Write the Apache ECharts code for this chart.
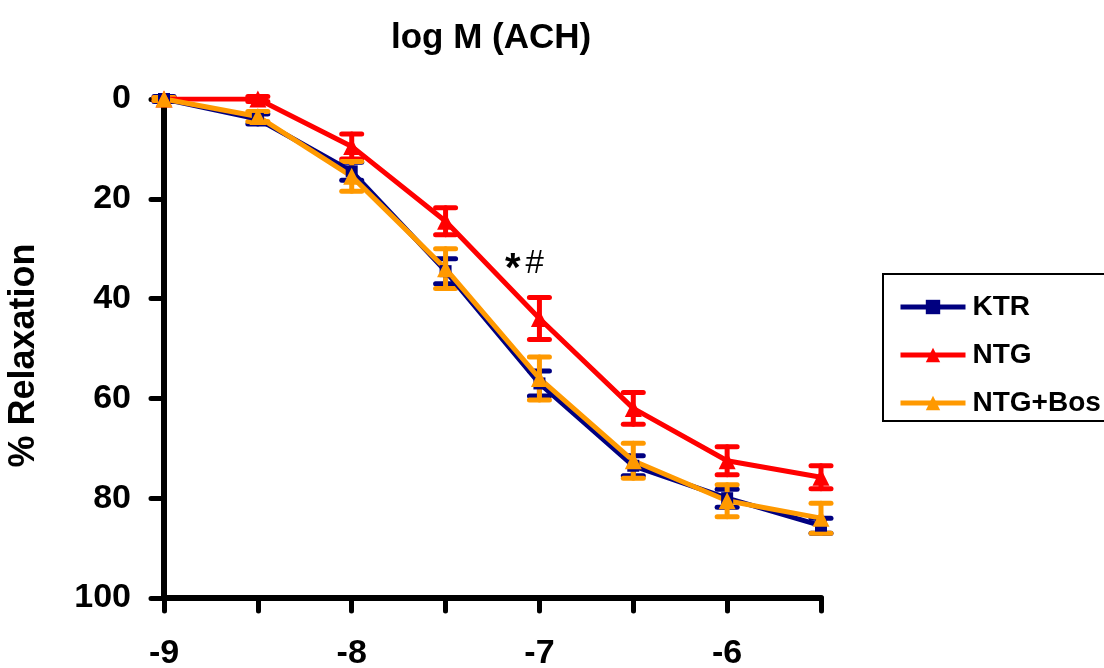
<!DOCTYPE html>
<html>
<head>
<meta charset="utf-8">
<script src="https://cdn.jsdelivr.net/npm/echarts@6/dist/echarts.min.js"></script>
<style>
  html, body { margin: 0; padding: 0; background: #fff; }
  #main { width: 1104px; height: 668px; }
</style>
</head>
<body>
<div id="main"></div>
<script>
// log concentration of ACH
var logDose = [-9, -8.5, -8, -7.5, -7, -6.5, -6, -5.5];

// mean % relaxation and error (SEM)
var ktrMean = [0, 4, 14.5, 34.5, 57, 73.5, 80, 85.5];
var ktrErr = [0.5, 1, 1.8, 2.5, 2.5, 2, 1.8, 1.5];
var ntgMean = [0, 0, 9.5, 24.5, 44, 62, 72.5, 75.8];
var ntgErr = [0.3, 0.5, 2.5, 2.7, 4.2, 3.2, 2.8, 2.3];
var bosMean = [0, 3.5, 15.5, 34, 56, 72.5, 80.5, 84];
var bosErr = [0.3, 1, 3, 4, 4.3, 3.5, 3.2, 3];

var yTicks = [0, 20, 40, 60, 80, 100];

var FONT = 'Arial, "Liberation Sans", sans-serif';

function pairs(xs, ys) {
  return xs.map(function (x, i) { return [x, ys[i]]; });
}
function errPairs(xs, ys, es) {
  return xs.map(function (x, i) { return [x, ys[i], es[i]]; });
}

function errorBars(name, color, data) {
  return {
    name: name + ' err',
    type: 'custom',
    data: data,
    z: 3,
    renderItem: function (params, api) {
      var x = api.value(0), y = api.value(1), e = api.value(2);
      var top = api.coord([x, y - e]);
      var bot = api.coord([x, y + e]);
      var w = 10;
      var st = { stroke: color, lineWidth: 5, lineCap: 'round' };
      return {
        type: 'group',
        children: [
          { type: 'line', shape: { x1: top[0], y1: top[1], x2: bot[0], y2: bot[1] }, style: st },
          { type: 'line', shape: { x1: top[0] - w, y1: top[1], x2: top[0] + w, y2: top[1] }, style: st },
          { type: 'line', shape: { x1: bot[0] - w, y1: bot[1], x2: bot[0] + w, y2: bot[1] }, style: st }
        ]
      };
    }
  };
}

function lineSeries(name, color, symbol, size, data) {
  return {
    name: name,
    type: 'line',
    data: data,
    z: 4,
    symbol: symbol,
    symbolSize: size,
    showAllSymbol: true,
    lineStyle: { color: color, width: 5 },
    itemStyle: { color: color, borderWidth: 0 },
    emphasis: { disabled: true }
  };
}

var chart = echarts.init(document.getElementById('main'));

var option = {
  animation: false,
  backgroundColor: '#fff',
  title: {
    text: 'log M (ACH)',
    left: 386,
    top: 16,
    textStyle: { fontFamily: FONT, fontSize: 35, fontWeight: 'bold', color: '#000' }
  },
  grid: { left: 164, right: 283, top: 99, bottom: 70, outerBoundsMode: 'none' },
  legend: {
    orient: 'vertical',
    left: 893,
    top: 288,
    itemGap: 20,
    itemWidth: 65,
    itemHeight: 18,
    lineStyle: { width: 5 },
    data: ['KTR', 'NTG', 'NTG+Bos'],
    textStyle: { fontFamily: FONT, fontSize: 28, fontWeight: 'bold', color: '#000', padding: [0, 0, 0, 2] }
  },
  xAxis: {
    type: 'value',
    min: -9,
    max: -5.5,
    interval: 0.5,
    splitLine: { show: false },
    axisLine: { onZero: false, lineStyle: { color: '#000', width: 6, cap: 'round' } },
    axisTick: { length: 13, lineStyle: { color: '#000', width: 5, cap: 'round' } },
    axisLabel: {
      margin: 39,
      fontFamily: FONT, fontSize: 34, fontWeight: 'bold', color: '#000',
      formatter: function (v) { return v % 1 === 0 ? String(v) : ''; }
    }
  },
  yAxis: {
    type: 'value',
    inverse: true,
    min: yTicks[0],
    max: yTicks[yTicks.length - 1],
    interval: 20,
    name: '% Relaxation',
    nameLocation: 'middle',
    nameGap: 122,
    nameRotate: 90,
    nameTextStyle: { fontFamily: FONT, fontSize: 36, fontWeight: 'bold', color: '#000', padding: [0, 14, 0, 0] },
    splitLine: { show: false },
    axisLine: { onZero: false, lineStyle: { color: '#000', width: 6, cap: 'round' } },
    axisTick: { length: 13, lineStyle: { color: '#000', width: 5, cap: 'round' } },
    axisLabel: { margin: 33, fontFamily: FONT, fontSize: 34, fontWeight: 'bold', color: '#000', padding: [10, 0, 0, 0] }
  },
  graphic: [
    {
      type: 'rect',
      shape: { x: 883, y: 274, width: 260, height: 147 },
      style: { fill: 'none', stroke: '#000', lineWidth: 2 },
      z: 1
    },
    {
      type: 'text',
      left: 505,
      top: 250,
      style: { text: '*', fontFamily: FONT, fontSize: 40, fontWeight: 'bold', fill: '#000' }
    },
    {
      type: 'text',
      left: 525,
      top: 247,
      style: { text: '#', fontFamily: FONT, fontSize: 33, fontStyle: 'italic', fill: '#000' }
    }
  ],
  series: [
    errorBars('KTR', '#000080', errPairs(logDose, ktrMean, ktrErr)),
    lineSeries('KTR', '#000080', 'rect', 12, pairs(logDose, ktrMean)),
    errorBars('NTG', '#FF0000', errPairs(logDose, ntgMean, ntgErr)),
    lineSeries('NTG', '#FF0000', 'triangle', 17, pairs(logDose, ntgMean)),
    errorBars('NTG+Bos', '#FF9900', errPairs(logDose, bosMean, bosErr)),
    lineSeries('NTG+Bos', '#FF9900', 'triangle', 17, pairs(logDose, bosMean))
  ]
};

chart.setOption(option);
</script>
</body>
</html>
